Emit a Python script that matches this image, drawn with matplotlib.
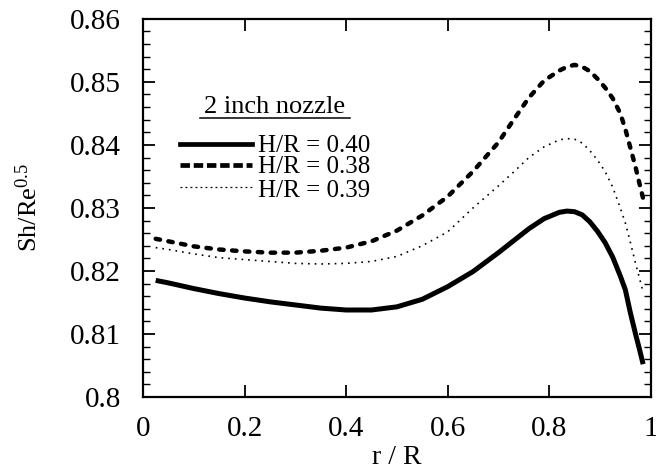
import matplotlib
matplotlib.use("Agg")
import matplotlib.pyplot as plt
from matplotlib.lines import Line2D

# radial position r/R
r_R = [0.025, 0.05, 0.10, 0.15, 0.20, 0.25, 0.30, 0.35, 0.40, 0.45, 0.50,
       0.55, 0.60, 0.65, 0.70, 0.73, 0.76, 0.79, 0.82, 0.835, 0.85, 0.865,
       0.88, 0.895, 0.91, 0.925, 0.94, 0.95, 0.96, 0.97, 0.978, 0.985]

# Sh/Re^0.5 for each nozzle height
sh_040 = [0.8185, 0.8181, 0.8172, 0.8164, 0.8157, 0.8151, 0.8146, 0.8141,
          0.8138, 0.8138, 0.8143, 0.8155, 0.8175, 0.8199, 0.8229, 0.8248,
          0.8267, 0.8283, 0.8293, 0.8295, 0.8294, 0.8289, 0.8278, 0.8263,
          0.8245, 0.8222, 0.8192, 0.8170, 0.8133, 0.8100, 0.8075, 0.8052]
sh_038 = [0.8251, 0.8247, 0.8239, 0.8234, 0.8231, 0.8229, 0.8229, 0.8232,
          0.8237, 0.8247, 0.8264, 0.8288, 0.8318, 0.8358, 0.8404, 0.8440,
          0.8475, 0.8502, 0.8518, 0.8524, 0.8527, 0.8524, 0.8517, 0.8505,
          0.8491, 0.8474, 0.8450, 0.8425, 0.8395, 0.8365, 0.8338, 0.8315]
sh_039 = [0.8237, 0.8234, 0.8227, 0.8221, 0.8218, 0.8215, 0.8212, 0.8211,
          0.8212, 0.8215, 0.8223, 0.8240, 0.8262, 0.8300, 0.8335, 0.8357,
          0.8380, 0.8397, 0.8408, 0.8410, 0.8409, 0.8403, 0.8391, 0.8376,
          0.8358, 0.8333, 0.8300, 0.8276, 0.8245, 0.8212, 0.8188, 0.8166]

labels = ["H/R = 0.40", "H/R = 0.38", "H/R = 0.39"]
legend_title = "2 inch nozzle"

plt.rcParams["font.family"] = ["Liberation Serif", "DejaVu Serif"]
plt.rcParams["mathtext.fontset"] = "custom"
plt.rcParams["mathtext.rm"] = "Liberation Serif"
plt.rcParams["mathtext.it"] = "Liberation Serif:italic"

fig = plt.figure(figsize=(6.56, 4.72), dpi=100)
ax = fig.add_axes([0.218, 0.159, 0.774, 0.801])

solid = dict(color="black", lw=3.6, solid_capstyle="butt", solid_joinstyle="round")
dashed = dict(color="black", lw=3.2, linestyle=(0, (1.0, 1.9)), dash_capstyle="round")
dotted = dict(color="black", lw=1.2, linestyle=(0, (1, 3)))

ax.plot(r_R, sh_040, **solid)
ax.plot(r_R, sh_038, **dashed)
ax.plot(r_R, sh_039, **dotted)

ax.set_xlim(0, 1)
ax.set_ylim(0.80, 0.86)
ax.set_xticks([0, 0.2, 0.4, 0.6, 0.8, 1.0])
ax.set_xticklabels(["0", "0.2", "0.4", "0.6", "0.8", "1"])
ax.set_yticks([0.80, 0.81, 0.82, 0.83, 0.84, 0.85, 0.86])
ax.set_yticklabels(["0.8", "0.81", "0.82", "0.83", "0.84", "0.85", "0.86"])
ax.set_yticks([0.80 + 0.002 * i for i in range(31)], minor=True)

ax.tick_params(axis="both", which="major", direction="in", length=8.5, width=1.3,
               labelsize=21, top=True, right=True)
ax.tick_params(axis="x", which="major", pad=14)
ax.tick_params(axis="y", which="major", pad=16)
ax.tick_params(axis="y", which="minor", direction="in", length=5, width=1.0,
               left=True, right=True)
for s in ax.spines.values():
    s.set_linewidth(1.6)

ax.set_xlabel("r / R", fontsize=20)
ax.set_ylabel(r"Sh/Re$^{0.5}$", fontsize=19)
ax.xaxis.set_label_coords(0.5, -0.128)
ax.yaxis.set_label_coords(-0.200, 0.5)

# legend block: underlined heading, then one sample line per case
ax.text(0.26, 0.751, legend_title, transform=ax.transAxes, fontsize=19,
        ha="center", va="baseline")
ax.add_line(Line2D([0.112, 0.407], [0.738, 0.738], transform=ax.transAxes,
                   color="black", lw=1.1))

handle_styles = [
    dict(color="black", lw=3.4),
    dict(color="black", lw=3.4, linestyle=(0, (2.0, 0.8))),
    dict(color="black", lw=0.9, linestyle=(0, (1.5, 2.5))),
]
row_line_y = [0.668, 0.614, 0.555]
row_text_y = [0.648, 0.592, 0.530]
for lab, style, ly, ty in zip(labels, handle_styles, row_line_y, row_text_y):
    ax.add_line(Line2D([0.073, 0.215], [ly, ly], transform=ax.transAxes, **style))
    ax.text(0.226, ty, lab, transform=ax.transAxes, fontsize=18,
            ha="left", va="baseline")

fig.savefig("out.png", dpi=100)
